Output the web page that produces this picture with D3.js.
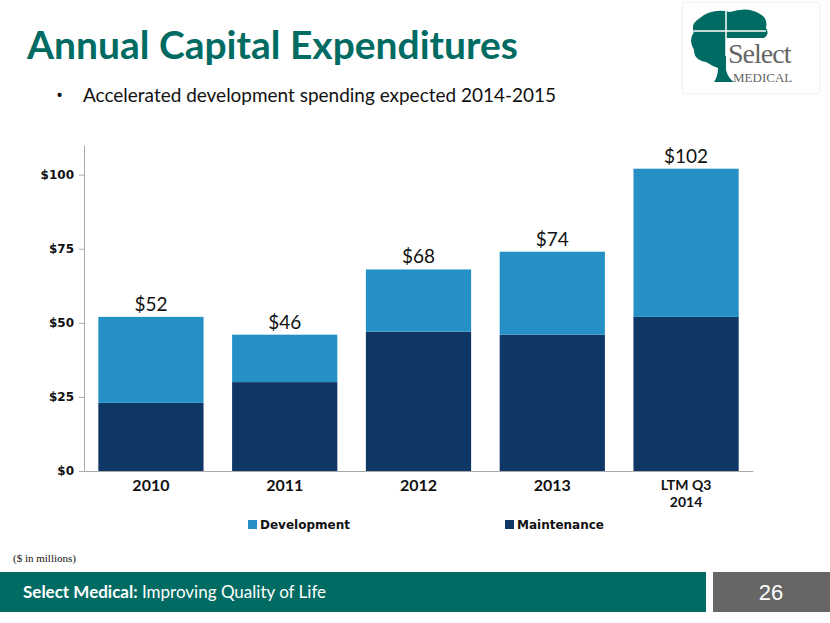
<!DOCTYPE html>
<html><head><meta charset="utf-8">
<script src="https://cdn.jsdelivr.net/npm/d3@7"></script>
<style>body{margin:0;background:#fff;}svg{display:block;}</style>
</head><body>
<script>
const categories = ["2010", "2011", "2012", "2013", "LTM Q3\n2014"];
const maintenance = [23, 30, 47, 46, 52];
const development = [29, 16, 21, 28, 50];
const totals = ["$52", "$46", "$68", "$74", "$102"];
const yTicks = [0, 25, 50, 75, 100];
const seriesNames = ["Development", "Maintenance"];
const colors = {Development: "#2590c6", Maintenance: "#0f3766"};

const W = 830, H = 623;
const svg = d3.select("body").append("svg").attr("width", W).attr("height", H);

// Title
svg.append("text").attr("x", 27).attr("y", 59).attr("fill", "#006b62")
  .attr("font-family", "Lato, 'Open Sans', sans-serif").attr("font-weight", "bold")
  .attr("font-size", 39).attr("textLength", 491).attr("lengthAdjust", "spacingAndGlyphs")
  .text("Annual Capital Expenditures");
svg.append("text").attr("x", 56).attr("y", 102).attr("font-family", "'Open Sans', sans-serif")
  .attr("font-size", 19).attr("fill", "#111").text("•");
svg.append("text").attr("x", 83).attr("y", 102).attr("font-family", "Lato, 'Open Sans', sans-serif")
  .attr("font-size", 20).attr("fill", "#111").attr("textLength", 473).attr("lengthAdjust", "spacingAndGlyphs")
  .text("Accelerated development spending expected 2014-2015");

// Logo
const logo = svg.append("g");
logo.append("rect").attr("x", 682).attr("y", 2).attr("width", 138).attr("height", 92).attr("rx", 4)
  .attr("fill", "#fff").attr("stroke", "#eee");
const tree = logo.append("g").attr("fill", "#006b62");
tree.append("path").attr("d", "M700,18 Q712,8 730,12 Q748,6 760,14 Q768,18 766,28 Q770,34 764,38 L726,38 L726,70 Q728,78 734,82 L714,82 Q718,76 718,68 Q712,66 706,62 Q694,60 694,50 Q688,40 694,32 Q690,24 700,18 Z");
logo.append("line").attr("x1", 726).attr("x2", 726).attr("y1", 10).attr("y2", 56).attr("stroke", "#fff").attr("stroke-width", 1.5);
logo.append("line").attr("x1", 694).attr("x2", 766).attr("y1", 31).attr("y2", 31).attr("stroke", "#fff").attr("stroke-width", 1.5);
logo.append("text").attr("x", 728).attr("y", 63).attr("font-family", "'Liberation Serif', serif")
  .attr("font-size", 28).attr("fill", "#666").attr("letter-spacing", -1).text("Select");
logo.append("text").attr("x", 733).attr("y", 82).attr("font-family", "'Liberation Serif', serif")
  .attr("font-size", 13).attr("fill", "#666").text("MEDICAL");

// Chart
const m = {left: 84, right: 753, top: 145, bottom: 471};
const x = d3.scaleBand().domain(categories).range([m.left, m.right]).paddingInner(0.2135).paddingOuter(0.107);
const y = d3.scaleLinear().domain([0, 110]).range([m.bottom, m.top]);

const data = categories.map((c, i) => ({cat: c, Maintenance: maintenance[i], Development: development[i], label: totals[i]}));
const stack = d3.stack().keys(["Maintenance", "Development"])(data);

svg.append("g").selectAll("g").data(stack).join("g").attr("fill", d => colors[d.key])
  .selectAll("rect").data(d => d).join("rect")
  .attr("x", d => x(d.data.cat)).attr("width", x.bandwidth())
  .attr("y", d => y(d[1])).attr("height", d => y(d[0]) - y(d[1]));

// total labels
svg.append("g").selectAll("text").data(data).join("text")
  .attr("x", d => x(d.cat) + x.bandwidth() / 2)
  .attr("y", d => y(d.Maintenance + d.Development) - 6)
  .attr("text-anchor", "middle").attr("font-family", "Lato, 'Open Sans', sans-serif")
  .attr("font-size", 19).attr("fill", "#111").text(d => d.label);

// y axis
const yAxis = svg.append("g").attr("transform", `translate(${m.left},0)`)
  .call(d3.axisLeft(y).tickValues(yTicks).tickSize(5).tickSizeOuter(0).tickFormat(d => "$" + d));
yAxis.select(".domain").attr("stroke", "#aaa");
yAxis.selectAll(".tick line").attr("stroke", "#aaa");
yAxis.selectAll("text").attr("font-family", "'DejaVu Sans', Verdana, sans-serif").attr("font-weight", "bold")
  .attr("font-size", 12).attr("fill", "#111").attr("dx", -2);

// x axis
const xAxis = svg.append("g").attr("transform", `translate(0,${m.bottom})`)
  .call(d3.axisBottom(x).tickSize(0).tickSizeOuter(0));
xAxis.select(".domain").attr("stroke", "#aaa");
xAxis.selectAll(".tick text").each(function(d) {
  const t = d3.select(this).text(null).attr("font-family", "Lato, 'Open Sans', sans-serif")
    .attr("font-weight", "bold").attr("font-size", 16).attr("fill", "#111").attr("y", 9);
  const lines = d.split("\n");
  if (lines.length > 1) t.attr("font-size", 14);
  lines.forEach((l, i) => t.append("tspan").attr("x", 0).attr("dy", i === 0 ? "0.71em" : "1.25em").text(l));
});

// legend
const legendX = [248, 505];
const lg = svg.append("g").selectAll("g").data(seriesNames).join("g")
  .attr("transform", (d, i) => `translate(${legendX[i]},520)`);
lg.append("rect").attr("width", 9).attr("height", 9).attr("fill", d => colors[d]);
lg.append("text").attr("x", 12).attr("y", 9).attr("font-family", "'DejaVu Sans', Verdana, sans-serif")
  .attr("font-weight", "bold").attr("font-size", 12).attr("fill", "#111").text(d => d);

// note
svg.append("text").attr("x", 13).attr("y", 562).attr("font-family", "'Liberation Serif', serif")
  .attr("font-size", 11).attr("fill", "#111").text("($ in millions)");

// footer
svg.append("rect").attr("x", 0).attr("y", 572).attr("width", 706).attr("height", 40).attr("fill", "#006b63");
svg.append("rect").attr("x", 713).attr("y", 572).attr("width", 117).attr("height", 40).attr("fill", "#666");
const ft = svg.append("text").attr("x", 23).attr("y", 598).attr("font-family", "Lato, 'Open Sans', sans-serif")
  .attr("font-size", 17).attr("fill", "#fff");
ft.append("tspan").attr("font-weight", "bold").text("Select Medical:");
ft.append("tspan").text(" Improving Quality of Life");
svg.append("text").attr("x", 771).attr("y", 600).attr("text-anchor", "middle")
  .attr("font-family", "'Liberation Sans', Arial, sans-serif").attr("font-size", 22).attr("fill", "#fff").text("26");
</script>
</body></html>
